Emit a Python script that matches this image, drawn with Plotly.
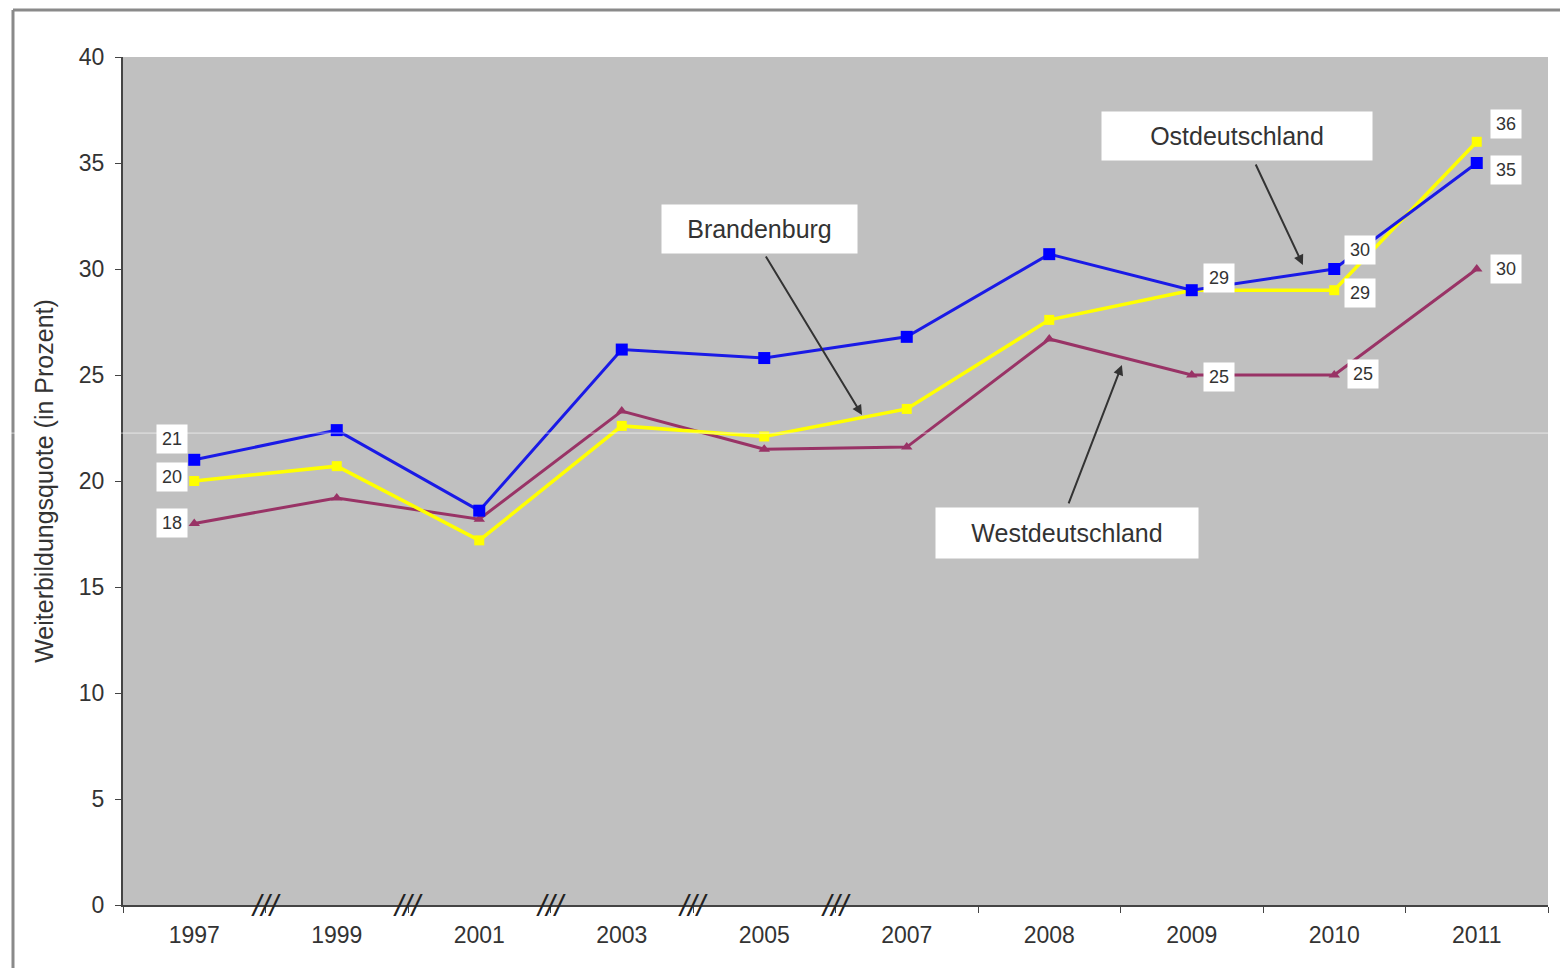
import plotly.graph_objects as go

# Survey years (category axis, uneven spacing marked with axis breaks)
years = ["1997", "1999", "2001", "2003", "2005", "2007", "2008", "2009", "2010", "2011"]

# Weiterbildungsquote in Prozent
ost = [21, 22.4, 18.6, 26.2, 25.8, 26.8, 30.7, 29, 30, 35]
brandenburg = [20, 20.7, 17.2, 22.6, 22.1, 23.4, 27.6, 29, 29, 36]
west = [18, 19.2, 18.2, 23.3, 21.5, 21.6, 26.7, 25, 25, 30]

y_ticks = [0, 5, 10, 15, 20, 25, 30, 35, 40]

# Which points get a value label: (series values, index, xshift, yshift)
labelled = [
    (ost, 0, -22, 21), (brandenburg, 0, -22, 4), (west, 0, -22, 0),
    (ost, 7, 27, 12), (ost, 8, 26, 19), (brandenburg, 8, 26, -3),
    (west, 7, 27, -2), (west, 8, 29, 1),
    (brandenburg, 9, 29, 18), (ost, 9, 29, -7), (west, 9, 29, 0),
]

FONT = "Liberation Sans, Arial"

fig = go.Figure()

fig.add_trace(go.Scatter(
    x=years, y=west, mode="lines+markers", name="Westdeutschland",
    line=dict(color="#993366", width=3),
    marker=dict(symbol="triangle-up", size=10, color="#993366"),
))
fig.add_trace(go.Scatter(
    x=years, y=brandenburg, mode="lines+markers", name="Brandenburg",
    line=dict(color="#ffff00", width=3.5),
    marker=dict(symbol="square", size=10, color="#ffff00"),
))
fig.add_trace(go.Scatter(
    x=years, y=ost, mode="lines+markers", name="Ostdeutschland",
    line=dict(color="#1a1ae6", width=3),
    marker=dict(symbol="square", size=12, color="#0000ff"),
))

annotations = []
for series, i, dx, dy in labelled:
    # category index keeps the label on the right year
    annotations.append(dict(
        x=i, y=series[i], text=f"{series[i]:.0f}", showarrow=False,
        xshift=dx, yshift=dy, bgcolor="white", width=28, height=26,
        font=dict(family=FONT, size=18, color="#333333"),
    ))

# Series name boxes with pointer arrows
name_boxes = [
    ("Ostdeutschland", 7.318, 36.27, 262, 40, (7.444, 35.0), (7.78, 30.19)),
    ("Brandenburg", 3.97, 31.9, 187, 40, (4.005, 30.66), (4.686, 23.11)),
    ("Westdeutschland", 6.125, 17.55, 254, 42, (6.132, 18.87), (6.51, 25.47)),
]
for text, bx, by, w, h, tail, head in name_boxes:
    annotations.append(dict(
        x=head[0], y=head[1], ax=tail[0], ay=tail[1], axref="x", ayref="y",
        text="", showarrow=True, arrowhead=2, arrowsize=1, arrowwidth=2,
        arrowcolor="#333333",
    ))
    annotations.append(dict(
        x=bx, y=by, text=text, showarrow=False, bgcolor="white",
        width=w, height=h, borderpad=4,
        font=dict(family=FONT, size=25, color="#333333"),
    ))

# Axis break marks between non-consecutive years
for k in range(5):
    annotations.append(dict(
        x=k + 0.5, y=0, text="<i>///</i>", showarrow=False, yshift=0,
        font=dict(family=FONT, size=30, color="#222222"),
    ))

fig.update_layout(
    width=1560, height=968,
    margin=dict(l=123, r=12, t=57, b=63),
    paper_bgcolor="white", plot_bgcolor="#c0c0c0",
    showlegend=False,
    annotations=annotations,
    font=dict(family=FONT, color="#333333"),
    shapes=[
        dict(type="line", xref="paper", yref="paper", x0=-0.0772, x1=-0.0772,
             y0=-0.08, y1=1.0554, line=dict(color="#8a8a8a", width=3)),
        dict(type="line", xref="paper", yref="paper", x0=-0.0772, x1=1.01,
             y0=1.0554, y1=1.0554, line=dict(color="#8a8a8a", width=3)),
        dict(type="line", xref="paper", yref="y", x0=-0.0863, x1=1.01,
             y0=22.26, y1=22.26, line=dict(color="rgba(255,255,255,0.6)", width=1),
             layer="above"),
    ],
)

fig.update_xaxes(
    type="category", range=[-0.5, 9.5],
    showline=True, linecolor="#444444", linewidth=2,
    ticks="outside", ticklen=6, tickcolor="#444444", tickson="boundaries",
    ticklabelstandoff=8,
    showgrid=False, zeroline=False,
    tickfont=dict(family=FONT, size=23, color="#333333"),
)
fig.update_yaxes(
    range=[0, 40], tickvals=y_ticks,
    showline=True, linecolor="#444444", linewidth=2,
    ticks="outside", ticklen=6, tickcolor="#444444",
    ticklabelstandoff=6,
    showgrid=False, zeroline=False,
    tickfont=dict(family=FONT, size=23, color="#333333"),
    title=dict(text="Weiterbildungsquote (in Prozent)", standoff=18,
               font=dict(family=FONT, size=25, color="#333333")),
)

fig.write_html("out.html")
